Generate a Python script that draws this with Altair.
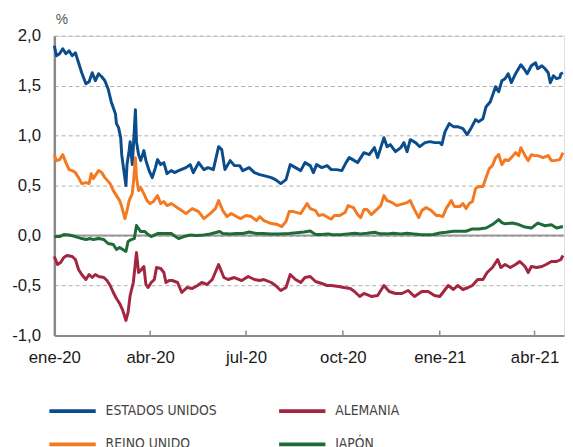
import altair as alt
import pandas as pd

# ---- data (days since 2020-01-01, yield in %) ----
us_days = [0,2,5,8,11,14,17,20,23,26,30,33,36,39,42,45,48,51,54,58,59,61,63,64,66,68,69,71,72,74,75,77,78,80,82,85,87,90,93,96,98,101,104,107,111,114,118,125,129,132,137,142,146,151,156,159,162,167,171,176,179,185,190,195,199,206,210,215,220,224,229,234,238,243,246,249,254,259,263,268,273,277,280,285,288,294,299,304,307,310,313,316,319,324,329,332,335,338,343,347,352,357,361,366,368,371,375,379,383,388,392,396,400,403,407,410,414,419,422,425,428,431,434,438,443,446,449,453,457,459,463,466,469,471,474,477,480,481,483]
us_vals = [1.90,1.80,1.82,1.87,1.82,1.85,1.80,1.83,1.73,1.63,1.52,1.54,1.63,1.55,1.62,1.59,1.55,1.47,1.34,1.22,1.12,1.08,0.98,0.81,0.65,0.50,0.71,0.85,0.94,0.71,0.88,1.26,0.94,0.81,0.75,0.85,0.75,0.65,0.58,0.68,0.76,0.71,0.73,0.62,0.65,0.63,0.65,0.68,0.71,0.63,0.73,0.66,0.68,0.66,0.89,0.86,0.66,0.75,0.70,0.70,0.65,0.68,0.63,0.61,0.60,0.58,0.56,0.52,0.56,0.71,0.68,0.65,0.73,0.70,0.63,0.71,0.68,0.70,0.66,0.66,0.65,0.73,0.78,0.75,0.73,0.83,0.81,0.88,0.78,0.88,0.98,0.89,0.91,0.84,0.88,0.93,0.84,0.96,0.93,0.89,0.93,0.94,0.93,0.93,0.91,1.04,1.12,1.09,1.09,1.07,1.01,1.08,1.16,1.14,1.17,1.29,1.34,1.49,1.44,1.55,1.57,1.62,1.53,1.62,1.71,1.67,1.62,1.70,1.73,1.67,1.70,1.67,1.63,1.53,1.60,1.57,1.58,1.62,1.63]

uk_days = [0,2,5,8,11,14,17,20,23,26,30,33,35,37,42,45,48,53,56,59,62,64,67,69,71,74,75,77,78,80,82,85,88,91,94,98,101,104,107,111,114,118,125,131,137,142,148,153,156,160,164,168,173,177,182,187,192,195,199,206,212,216,220,223,227,234,240,243,248,251,255,260,263,266,271,276,279,284,288,291,294,297,301,305,310,313,316,321,325,330,335,338,341,346,349,353,358,363,366,369,372,377,380,385,388,391,394,397,400,403,407,410,413,416,419,422,425,428,431,434,438,441,443,447,450,453,456,459,464,469,472,475,480,483]
uk_vals = [0.81,0.75,0.76,0.81,0.73,0.66,0.65,0.63,0.58,0.52,0.53,0.52,0.62,0.57,0.65,0.63,0.58,0.52,0.45,0.40,0.35,0.29,0.17,0.25,0.35,0.42,0.52,0.78,0.58,0.45,0.48,0.42,0.35,0.32,0.34,0.40,0.32,0.34,0.30,0.32,0.30,0.27,0.22,0.27,0.24,0.17,0.22,0.27,0.35,0.25,0.19,0.22,0.19,0.17,0.20,0.19,0.15,0.19,0.15,0.12,0.11,0.09,0.14,0.24,0.24,0.22,0.32,0.27,0.25,0.20,0.21,0.18,0.165,0.20,0.20,0.23,0.30,0.28,0.21,0.18,0.26,0.26,0.21,0.25,0.30,0.40,0.35,0.33,0.30,0.315,0.33,0.35,0.28,0.18,0.25,0.28,0.25,0.20,0.20,0.19,0.27,0.35,0.29,0.29,0.32,0.27,0.32,0.34,0.47,0.49,0.49,0.58,0.67,0.70,0.78,0.81,0.71,0.76,0.75,0.78,0.83,0.80,0.88,0.80,0.75,0.81,0.80,0.80,0.78,0.80,0.75,0.75,0.76,0.83]

de_days = [0,3,6,9,12,17,20,23,26,30,33,36,39,42,47,50,53,56,59,62,65,68,70,72,75,77,78,80,82,85,87,89,92,95,97,101,104,106,109,112,117,121,126,131,136,140,145,150,156,161,165,171,178,184,190,195,199,206,210,215,220,224,229,234,238,243,248,254,259,263,270,275,281,285,290,294,301,307,313,318,324,330,336,342,349,355,361,366,369,374,379,383,388,393,397,402,407,411,416,421,424,428,433,438,442,447,450,453,458,463,467,472,477,481,483]
de_vals = [-0.21,-0.29,-0.27,-0.22,-0.20,-0.21,-0.24,-0.34,-0.39,-0.44,-0.39,-0.42,-0.39,-0.41,-0.42,-0.45,-0.50,-0.57,-0.63,-0.68,-0.75,-0.85,-0.77,-0.60,-0.47,-0.27,-0.17,-0.37,-0.35,-0.31,-0.49,-0.52,-0.47,-0.44,-0.32,-0.33,-0.37,-0.47,-0.45,-0.45,-0.47,-0.57,-0.52,-0.53,-0.50,-0.47,-0.49,-0.44,-0.29,-0.42,-0.44,-0.42,-0.45,-0.41,-0.44,-0.45,-0.44,-0.47,-0.50,-0.55,-0.52,-0.39,-0.44,-0.47,-0.42,-0.41,-0.46,-0.48,-0.50,-0.50,-0.51,-0.52,-0.53,-0.56,-0.61,-0.58,-0.61,-0.60,-0.50,-0.56,-0.58,-0.58,-0.55,-0.61,-0.56,-0.56,-0.60,-0.61,-0.57,-0.50,-0.54,-0.50,-0.54,-0.52,-0.50,-0.44,-0.44,-0.37,-0.32,-0.24,-0.32,-0.29,-0.32,-0.29,-0.26,-0.31,-0.37,-0.31,-0.32,-0.31,-0.29,-0.26,-0.26,-0.24,-0.20]

jp_days = [0,5,9,14,20,26,30,34,37,42,47,51,56,59,62,65,68,70,73,76,78,80,82,86,89,92,98,104,111,115,118,123,129,135,142,148,157,160,167,173,179,185,192,198,206,213,223,237,243,248,254,260,266,273,279,285,291,297,304,310,316,322,329,335,341,347,353,360,366,372,379,385,391,397,403,410,416,422,425,428,435,441,447,453,459,466,472,477,481,483]
jp_vals = [-0.01,-0.01,0.01,0.005,-0.01,-0.03,-0.04,-0.03,-0.04,-0.03,-0.04,-0.08,-0.09,-0.14,-0.12,-0.14,-0.16,-0.06,-0.04,-0.03,0.10,0.07,0.04,0.04,0.01,-0.01,0.02,0.02,0.02,-0.01,-0.03,-0.01,0.005,0.0,0.005,0.015,0.04,0.02,0.015,0.02,0.02,0.035,0.02,0.02,0.015,0.015,0.02,0.036,0.045,0.01,0.01,0.017,0.007,0.01,0.017,0.023,0.017,0.023,0.033,0.017,0.017,0.023,0.017,0.023,0.017,0.01,0.007,0.01,0.026,0.033,0.043,0.043,0.043,0.066,0.066,0.075,0.11,0.16,0.13,0.118,0.125,0.11,0.085,0.075,0.125,0.098,0.108,0.075,0.085,0.09]

# legend order (column-major grid of 2 columns)
series_names = ["ESTADOS UNIDOS", "REINO UNIDO", "ALEMANIA", "JAPÓN"]
series_colors = ["#0b4d8c", "#f47920", "#a3253f", "#1e6b38"]
tick_dates = ["2020-01-01", "2020-04-01", "2020-07-01", "2020-10-01", "2021-01-01", "2021-04-01"]
y_ticks = [-1.0, -0.5, 0.0, 0.5, 1.0, 1.5, 2.0]

base_date = pd.Timestamp("2020-01-01")
frames = []
for name, days, vals in [("ESTADOS UNIDOS", us_days, us_vals), ("REINO UNIDO", uk_days, uk_vals),
                         ("ALEMANIA", de_days, de_vals), ("JAPÓN", jp_days, jp_vals)]:
    frames.append(pd.DataFrame({
        "fecha": [(base_date + pd.Timedelta(days=d)).strftime("%Y-%m-%d") for d in days],
        "valor": vals,
        "serie": name,
    }))
df = pd.concat(frames, ignore_index=True)

PLOT_W, PLOT_H = 517, 304
x_dom = [alt.DateTime(year=2020, month=1, date=1, utc=True),
         alt.DateTime(year=2021, month=4, date=29, utc=True)]
x_vals = [alt.DateTime(year=int(t[:4]), month=int(t[5:7]), date=1, utc=True) for t in tick_dates]

x_scale = alt.Scale(type="utc", domain=x_dom, nice=False)
y_scale = alt.Scale(domain=[-1.0, 2.0], nice=False, zero=False)

month_expr = ("['ene','feb','mar','abr','may','jun','jul','ago','sep','oct','nov','dic']"
              "[utcmonth(datum.value)] + '-' + utcFormat(datum.value, '%y')")
ylab_expr = "(datum.value < 0 ? '-' : '') + replace(format(abs(datum.value), '.1f'), '.', ',')"

lines = alt.Chart(df).mark_line(strokeWidth=3, strokeJoin="round").encode(
    x=alt.X("fecha:T", scale=x_scale,
            axis=alt.Axis(values=x_vals, labelExpr=month_expr, title=None, grid=False,
                          ticks=False, domainColor="#8a8a8a", domainWidth=2,
                          labelFont="Liberation Sans", labelFontSize=17, labelColor="#1a1a1a",
                          labelPadding=14, labelFlush=False)),
    y=alt.Y("valor:Q", scale=y_scale,
            axis=alt.Axis(values=y_ticks, labelExpr=ylab_expr, title="%", titleAngle=0,
                          titleX=1, titleY=-16, titleAlign="left", titleBaseline="middle",
                          titleFont="Liberation Sans", titleFontSize=14, titleFontWeight="normal",
                          titleColor="#555555",
                          grid=True, gridDash=[4, 3], gridColor="#b0b0b0", gridWidth=1,
                          ticks=False, domainColor="#8a8a8a", domainWidth=2.5,
                          labelFont="Liberation Sans", labelFontSize=17, labelColor="#1a1a1a",
                          labelPadding=14)),
    color=alt.Color("serie:N",
                    scale=alt.Scale(domain=series_names, range=series_colors),
                    legend=alt.Legend(title=None, orient="none", legendX=-7, legendY=355,
                                      columns=2, columnPadding=55, rowPadding=-20,
                                      symbolType="stroke", symbolSize=2209, symbolStrokeWidth=4,
                                      labelOffset=8, labelFont="DejaVu Sans Condensed, Roboto",
                                      labelFontSize=14, labelColor="#444444")),
    detail="serie:N",
)

zero_line = alt.Chart(pd.DataFrame({"y": [0.0]})).mark_rule(color="#9a9a9a", strokeWidth=2).encode(
    y=alt.Y("y:Q", scale=y_scale)
)

tick_df = pd.DataFrame({"fecha": tick_dates[1:]})
x_ticks = alt.Chart(tick_df).mark_rule(color="#8a8a8a", strokeWidth=1.5).encode(
    x=alt.X("fecha:T", scale=x_scale),
    y=alt.value(PLOT_H - 5),
    y2=alt.value(PLOT_H),
)

chart = alt.layer(zero_line, x_ticks, lines).properties(
    width=PLOT_W, height=PLOT_H,
    autosize=alt.AutoSizeParams(type="none"),
    padding={"left": 47, "top": 25, "right": 1, "bottom": 110},
).configure_view(stroke=None).configure(background="white")

chart.save("out.html", embed_options={"renderer": "svg", "actions": False})
